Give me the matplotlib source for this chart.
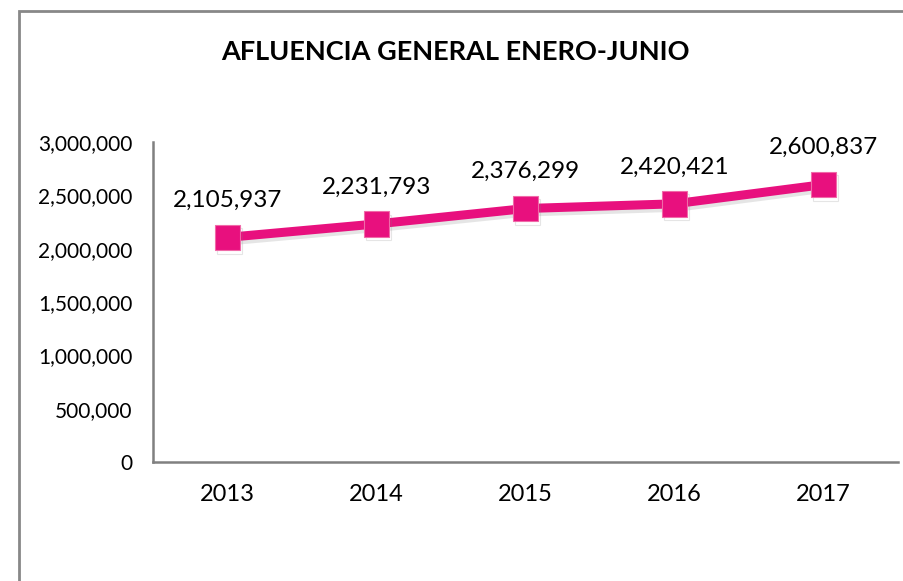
import matplotlib.pyplot as plt
from matplotlib.patches import Rectangle
import matplotlib.patheffects as pe

years = ["2013", "2014", "2015", "2016", "2017"]
visitors = [2105937, 2231793, 2376299, 2420421, 2600837]
yticks = [0, 500000, 1000000, 1500000, 2000000, 2500000, 3000000]

plt.rcParams['font.family'] = ['Lato', 'DejaVu Sans']
pink = "#E8107E"

fig = plt.figure(figsize=(9.04, 5.81), dpi=100)
ax = fig.add_axes([153/904, 1-462/581, 745/904, 320/581])

x = range(len(years))
ax.plot(x, visitors, color=pink, lw=6.5, marker="s", ms=18.5, mfc=pink, mec="#f06aa8", mew=0.8,
        solid_capstyle="butt",
        path_effects=[pe.SimpleLineShadow(offset=(1.5, -2.5), alpha=0.2, shadow_color="gray"), pe.Normal()])

for i, v in enumerate(visitors):
    ax.annotate(f"{v:,}", (i, v), xytext=(0, 19), textcoords="offset points",
                ha="center", va="bottom", fontsize=17.5)

ax.set_xlim(-0.5, len(years) - 0.5)
ax.set_ylim(0, 3000000)
ax.set_xticks(list(x))
ax.set_xticklabels(years, fontsize=17)
ax.set_yticks(yticks)
ax.set_yticklabels([f"{t:,}" for t in yticks], fontsize=15)
ax.tick_params(length=0)
ax.tick_params(axis="y", pad=15)
ax.tick_params(axis="x", pad=16)
for s in ["top", "right"]:
    ax.spines[s].set_visible(False)
for s in ["left", "bottom"]:
    ax.spines[s].set_color("#808080")
    ax.spines[s].set_linewidth(1.8)

fig.text(455/904, 1-52/581, "AFLUENCIA GENERAL ENERO-JUNIO", ha="center", va="center",
         fontsize=19.5, fontweight="bold")

fig.patches.append(Rectangle((19/904, -0.05), 1.0, 1 - 11/581 + 0.05, transform=fig.transFigure,
                             fill=False, edgecolor="#888888", lw=2))

fig.savefig("out.png", dpi=100)
